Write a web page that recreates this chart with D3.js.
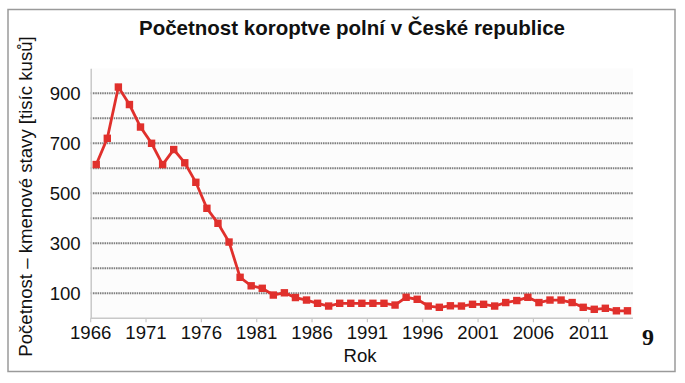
<!DOCTYPE html>
<html><head><meta charset="utf-8">
<script src="https://cdn.jsdelivr.net/npm/d3@7"></script>
<style>html,body{margin:0;padding:0;background:#fff;}svg{display:block;}</style>
</head><body>
<script>
const years = d3.range(1966, 2015);
const values = [615,720,925,855,765,700,615,675,622,544,440,380,305,164,130,120,93,102,83,73,60,49,60,60,60,60,60,53,84,76,49,44,50,49,56,56,49,63,71,84,63,73,73,63,44,36,40,30,30];
const yTicks = [100,300,500,700,900];
const yGrid = [100,200,300,400,500,600,700,800,900];
const xTickYears = [1966,1971,1976,1981,1986,1991,1996,2001,2006,2011];
const title = "Početnost koroptve polní v České republice";
const yLabel = "Početnost – kmenové stavy [tisíc kusů]";
const xLabel = "Rok";

const W = 685, H = 383;
const svg = d3.select("body").append("svg").attr("width", W).attr("height", H);
const font = "'Liberation Sans', Arial, sans-serif";

svg.append("rect").attr("x", 8).attr("y", 9.5).attr("width", 667).attr("height", 362)
  .attr("fill", "#fff").attr("stroke", "#9a9a9a").attr("stroke-width", 1.5);

const x = d3.scaleBand().domain(years).range([90.7, 633]).paddingInner(0).paddingOuter(0);
const y = d3.scaleLinear().domain([0, 1000]).range([318.3, 68.3]);

svg.append("rect").attr("x", 90.7).attr("y", 68.3).attr("width", 633 - 90.7).attr("height", 250)
  .attr("fill", "#fcfcfc");

// gridlines
svg.append("g").selectAll("line").data(yGrid).join("line")
  .attr("x1", 90.7).attr("x2", 633).attr("y1", d => y(d)).attr("y2", d => y(d))
  .attr("stroke", "#7e7e7e").attr("stroke-width", 2).attr("stroke-dasharray", "1.5 0.8");

// axes
const yAxis = svg.append("g").attr("transform", "translate(90.7,0)")
  .call(d3.axisLeft(y).tickValues(yTicks).tickSize(0).tickPadding(10));
yAxis.select(".domain").attr("stroke", "#c8c8c8").attr("stroke-width", 1.5);
yAxis.selectAll("text").attr("font-family", font).attr("font-size", 18.6).attr("fill", "#111");

svg.append("line").attr("x1", 90.7).attr("x2", 633).attr("y1", 318.3).attr("y2", 318.3)
  .attr("stroke", "#c8c8c8").attr("stroke-width", 1.5);
const xt = svg.append("g").selectAll("g").data(xTickYears).join("g")
  .attr("transform", d => `translate(${x(d)},318.3)`);
xt.append("line").attr("y1", 0).attr("y2", 4).attr("stroke", "#c8c8c8").attr("stroke-width", 1.2);
xt.append("text").attr("y", 21).attr("text-anchor", "middle").attr("font-family", font)
  .attr("font-size", 18.6).attr("fill", "#111").text(d => d);

// line
const cx = d => x(d) + x.bandwidth() / 2;
svg.append("path").datum(years.map((yr, i) => [yr, values[i]]))
  .attr("fill", "none").attr("stroke", "#e0302c").attr("stroke-width", 2.8)
  .attr("d", d3.line().x(d => cx(d[0])).y(d => y(d[1])));
svg.append("g").selectAll("rect").data(years.map((yr, i) => [yr, values[i]])).join("rect")
  .attr("x", d => cx(d[0]) - 3.7).attr("y", d => y(d[1]) - 3.7).attr("width", 7.4).attr("height", 7.4)
  .attr("fill", "#e0302c");

// texts
svg.append("text").attr("x", 352).attr("y", 35).attr("text-anchor", "middle")
  .attr("font-family", font).attr("font-weight", "bold").attr("font-size", 20.5).attr("fill", "#111").text(title);
svg.append("text").attr("transform", "translate(31.5,196.5) rotate(-90)").attr("text-anchor", "middle")
  .attr("font-family", font).attr("font-size", 18.6).attr("fill", "#111").text(yLabel);
svg.append("text").attr("x", 360).attr("y", 362).attr("text-anchor", "middle")
  .attr("font-family", font).attr("font-size", 18.6).attr("fill", "#111").text(xLabel);
svg.append("text").attr("x", 648).attr("y", 345).attr("text-anchor", "middle")
  .attr("font-family", "'Liberation Serif', 'DejaVu Serif', serif").attr("font-weight", "bold")
  .attr("font-size", 24).attr("fill", "#111").text("9");
</script>
</body></html>
